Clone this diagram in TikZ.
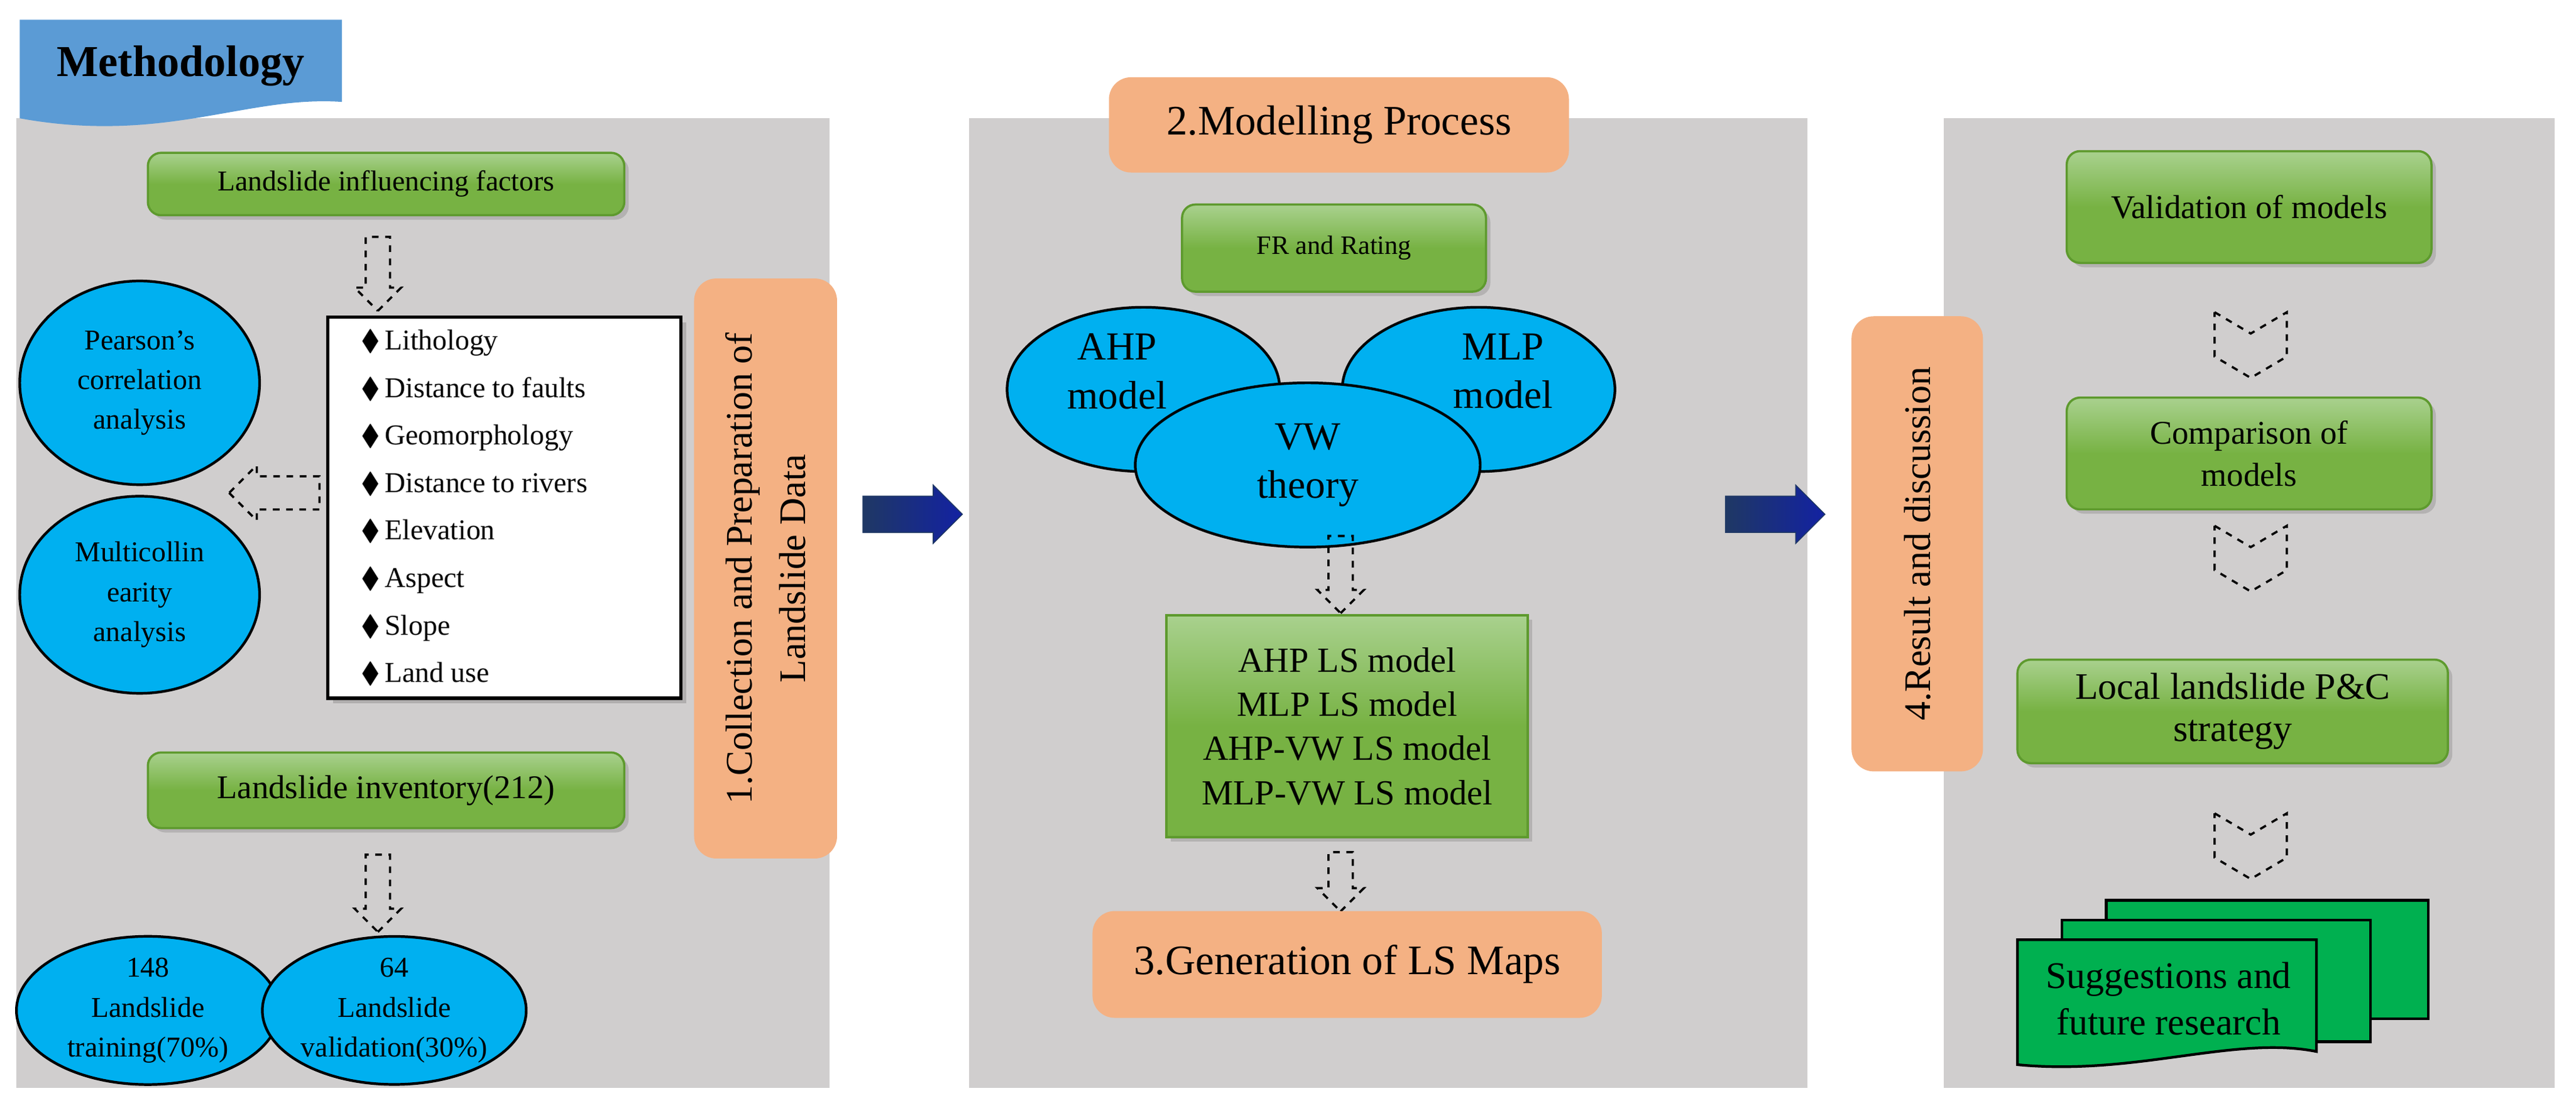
\documentclass[tikz,border=0pt]{standalone}
\usepackage{amssymb}
\usepackage{fontspec}
\setmainfont{Liberation Serif}
\usetikzlibrary{shapes.geometric,shapes.arrows,shadows}
\definecolor{pgray}{HTML}{D0CECE}
\definecolor{gdark}{HTML}{5E9A2E}
\definecolor{gmid}{HTML}{77B243}
\definecolor{glight}{HTML}{A9D18E}
\definecolor{sky}{HTML}{00B0F0}
\definecolor{peach}{HTML}{F4B183}
\definecolor{tabblue}{HTML}{5B9BD5}
\definecolor{navy}{HTML}{1F3864}
\definecolor{docgreen}{HTML}{00B050}
\tikzset{
  panel/.style={fill=pgray,draw=none},
  gbox/.style={draw=gdark,line width=1pt,rounded corners=6pt,top color=glight,bottom color=gmid,middle color=gmid,
     drop shadow={opacity=0.35,shadow xshift=2pt,shadow yshift=-2pt},align=center,font=\fontsize{13}{17}\selectfont},
  obox/.style={fill=peach,draw=none,rounded corners=10pt,align=center},
  ell/.style={ellipse,draw=black,line width=1.2pt,fill=sky,align=center,inner sep=0pt,font=\fontsize{13}{18}\selectfont},
  darr/.style={single arrow,draw=black,dashed,line width=1pt,fill=none,single arrow head extend=5pt,inner sep=5pt},
  barr/.style={single arrow,draw=navy,left color=navy,right color=navy!60!blue,single arrow head extend=5pt,inner sep=8pt,minimum height=45pt},
  chev/.style={draw=black,dashed,line width=1pt},
}
\begin{document}
\begin{tikzpicture}[x=0.02614cm,y=-0.02614cm]
\useasboundingbox (0,0) rectangle (1568,671);
\fill[white] (0,0) rectangle (1568,671);
% panels
\fill[panel] (10,72) rectangle (505,662);
\fill[panel] (590,72) rectangle (1100,662);
\fill[panel] (1183,72) rectangle (1555,662);
% tab
\fill[tabblue] (12,12) -- (208,12) -- (208,62) .. controls (150,58) and (100,88) .. (12,72) -- cycle;
\node[font=\fontsize{20}{24}\selectfont\bfseries] (meth) at (110,40) {Methodology};
% panel 1
\node[gbox,minimum width=290*0.02614cm,minimum height=38*0.02614cm] (lif) at (235,112) {Landslide influencing factors};
\node[darr,rotate=-90,minimum height=45*0.02614cm] (a1) at (230,163) {};
\node[draw=black,line width=1.5pt,fill=white,drop shadow={opacity=0.4},minimum width=215*0.02614cm,minimum height=232*0.02614cm] (list) at (307,309) {};
\node[anchor=west,align=left,font=\fontsize{13}{21.5}\selectfont] (items) at (215,309) {%
$\blacklozenge$\,Lithology\\ $\blacklozenge$\,Distance to faults\\ $\blacklozenge$\,Geomorphology\\ $\blacklozenge$\,Distance to rivers\\ $\blacklozenge$\,Elevation\\ $\blacklozenge$\,Aspect\\ $\blacklozenge$\,Slope\\ $\blacklozenge$\,Land use};
\node[ell,minimum width=146*0.02614cm,minimum height=124*0.02614cm] (pear) at (85,233) {Pearson’s\\correlation\\analysis};
\node[ell,minimum width=146*0.02614cm,minimum height=120*0.02614cm] (multi) at (85,362) {Multicollin\\earity\\analysis};
\node[darr,rotate=180,minimum height=55*0.02614cm,inner sep=7pt] (a2) at (172,300) {};
\node[obox,minimum width=87*0.02614cm,minimum height=353*0.02614cm] (p1) at (466,346) {};
\node[rotate=90,align=center,font=\fontsize{17}{24}\selectfont] (p1t) at (466,346) {1.Collection and Preparation of\\Landslide Data};
\node[gbox,minimum width=290*0.02614cm,minimum height=46*0.02614cm,font=\fontsize{15}{18}\selectfont] (inv) at (235,481) {Landslide inventory(212)};
\node[darr,rotate=-90,minimum height=47*0.02614cm] (a3) at (230,540) {};
\node[ell,minimum width=160*0.02614cm,minimum height=90*0.02614cm] (e148) at (90,615) {148\\Landslide\\training(70\%)};
\node[ell,minimum width=160*0.02614cm,minimum height=90*0.02614cm] (e64) at (240,615) {64\\Landslide\\validation(30\%)};
% arrow 1
\node[barr] (b1) at (550,313) {};
% panel 2
\node[obox,minimum width=280*0.02614cm,minimum height=58*0.02614cm,font=\fontsize{19}{22}\selectfont] (mp) at (815,76) {2.Modelling Process};
\node[gbox,minimum width=185*0.02614cm,minimum height=53*0.02614cm,font=\fontsize{12}{15}\selectfont] (fr) at (812,151) {FR and Rating};
\node[ell,minimum width=166*0.02614cm,minimum height=100*0.02614cm] (ahp) at (696,237) {};
\node[ell,minimum width=166*0.02614cm,minimum height=100*0.02614cm] (mlp) at (900,237) {};
\node[align=center,font=\fontsize{18}{22}\selectfont] (ahpt) at (680,226) {AHP\\model};
\node[align=center,font=\fontsize{18}{22}\selectfont] (mlpt) at (915,226) {MLP\\model};
\node[ell,minimum width=210*0.02614cm,minimum height=100*0.02614cm,font=\fontsize{18}{22}\selectfont] (vw) at (796,283) {VW\\theory};
\node[darr,rotate=-90,minimum height=47*0.02614cm] (a4) at (816,346) {};
\node[gbox,rounded corners=0pt,minimum width=220*0.02614cm,minimum height=135*0.02614cm,font=\fontsize{16}{20}\selectfont] (ls) at (820,442) {AHP LS model\\MLP LS model\\AHP-VW LS model\\MLP-VW LS model};
\node[darr,rotate=-90,minimum height=36*0.02614cm] (a5) at (816,533) {};
\node[obox,minimum width=310*0.02614cm,minimum height=65*0.02614cm,font=\fontsize{19}{22}\selectfont] (gen) at (820,587) {3.Generation of LS Maps};
% arrow 2
\node[barr] (b2) at (1075,313) {};
\node[obox,minimum width=80*0.02614cm,minimum height=277*0.02614cm] (p4) at (1167,331) {};
\node[rotate=90,font=\fontsize{17}{20}\selectfont] (p4t) at (1167,331) {4.Result and discussion};
% panel 3
\node[gbox,minimum width=222*0.02614cm,minimum height=68*0.02614cm,font=\fontsize{15}{19}\selectfont] (val) at (1369,126) {Validation of models};
\node[gbox,minimum width=222*0.02614cm,minimum height=68*0.02614cm,font=\fontsize{15}{19}\selectfont] (cmp) at (1369,276) {Comparison of\\models};
\node[gbox,minimum width=262*0.02614cm,minimum height=63*0.02614cm,font=\fontsize{17}{19}\selectfont] (loc) at (1359,433) {Local landslide P\&C\\strategy};
\foreach \cy/\nm in {190/c1,320/c2,495/c3}{
  \coordinate (\nm) at (1370,\cy);
  \draw[chev] ([xshift=-22*0.02614cm]\nm) -- ++(22,13) -- ++(22,-13) -- ++(0,27) -- ++(-22,13) -- ++(-22,-13) -- cycle;
}
% document stack
\draw[fill=docgreen,line width=1.2pt] (1282,548) rectangle (1478,620);
\draw[fill=docgreen,line width=1.2pt] (1255,560) rectangle (1443,634);
\draw[fill=docgreen,line width=1.2pt] (1228,572) -- (1410,572) -- (1410,640) .. controls (1360,630) and (1300,655) .. (1228,648) -- cycle;
\node[align=center,font=\fontsize{17}{21}\selectfont] (sug) at (1320,608) {Suggestions and\\future research};
\end{tikzpicture}
\end{document}
